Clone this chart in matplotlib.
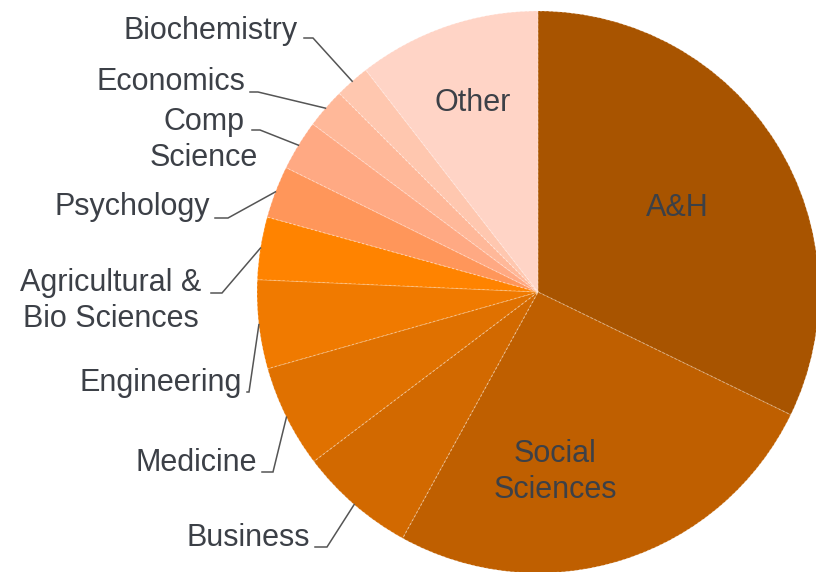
import matplotlib
matplotlib.use("Agg")
import matplotlib.pyplot as plt
import numpy as np

# ---------------------------------------------------------
# DATI (percentuali, in senso orario dalle ore 12)
# ---------------------------------------------------------
categorie = ["A&H", "Social\nSciences", "Business", "Medicine", "Engineering",
             "Agricultural &\nBio Sciences", "Psychology", "Comp\nScience",
             "Economics", "Biochemistry", "Other"]
valori = [32.2, 25.8, 6.7, 5.9, 5.1, 3.6, 3.0, 2.9, 2.3, 2.0, 10.5]

colori = ["#A85400", "#BF5F00", "#D26900", "#E07100", "#F07A00",
          "#FF8300", "#FF965A", "#FFA983", "#FFB899", "#FFC7AF", "#FFD4C6"]

TESTO = "#3C4047"
LINEA = "#555555"

# geometria in pixel del riferimento (816x572)
W, H = 816, 572
CX, CY, R = 538, 292, 281


def px(x, y):
    return ((x - CX) / R, (CY - y) / R)


# etichette dentro la torta: posizione centro testo
interne = {
    "A&H": (677, 208),
    "Social\nSciences": (555, 472),
    "Other": (473, 103),
}

# etichette esterne: (x testo, y testo, allineamento, inizio linea, fine gomito)
esterne = {
    "Biochemistry": (298, 31, "right", (304, 38), 313),
    "Economics": (245, 82, "right", (250, 92), 258),
    "Comp\nScience": (204, 140, "center", (252, 130), 260),
    "Psychology": (210, 207, "right", (215, 218), 228),
    "Agricultural &\nBio Sciences": (111, 301, "center", (211, 293), 222),
    "Engineering": (242, 383, "right", (247, 392), 249),
    "Medicine": (257, 463, "right", (262, 472), 273),
    "Business": (310, 538, "right", (315, 547), 327),
}

# ---------------------------------------------------------
# GRAFICO
# ---------------------------------------------------------
plt.rcParams["font.family"] = ["Liberation Sans", "DejaVu Sans"]

fig = plt.figure(figsize=(W / 100, H / 100), dpi=100)
ax = fig.add_axes([0, 0, 1, 1])

wedges, _ = ax.pie(
    valori,
    colors=colori,
    startangle=90,
    counterclock=False,
    radius=1,
    center=(0, 0),
    frame=True,
    wedgeprops=dict(edgecolor=(1, 1, 1, 0.35), linewidth=0.8, linestyle=(0, (2, 2))),
)
ax.set_xlim(-CX / R, (W - CX) / R)
ax.set_ylim((CY - H) / R, CY / R)
ax.set_aspect("equal")
ax.axis("off")

for w, nome in zip(wedges, categorie):
    if nome in interne:
        x, y = px(*interne[nome])
        ax.text(x, y, nome, ha="center", va="center", multialignment="center",
                fontsize=22, color=TESTO, linespacing=1.28)
        continue

    tx, ty, allin, start, gomito = esterne[nome]
    x, y = px(tx, ty)
    ax.text(x, y, nome, ha=allin, va="center", multialignment="center",
            fontsize=22, color=TESTO, linespacing=1.28)

    # linea guida: tratto orizzontale + segmento fino al bordo
    mid = np.deg2rad((w.theta1 + w.theta2) / 2)
    ex, ey = np.cos(mid), np.sin(mid)
    sx, sy = px(*start)
    gx, _ = px(gomito, start[1])
    ax.plot([sx, gx, ex], [sy, sy, ey], color=LINEA, lw=1.1,
            solid_joinstyle="miter")

fig.savefig("out.png", dpi=100, facecolor="white")
